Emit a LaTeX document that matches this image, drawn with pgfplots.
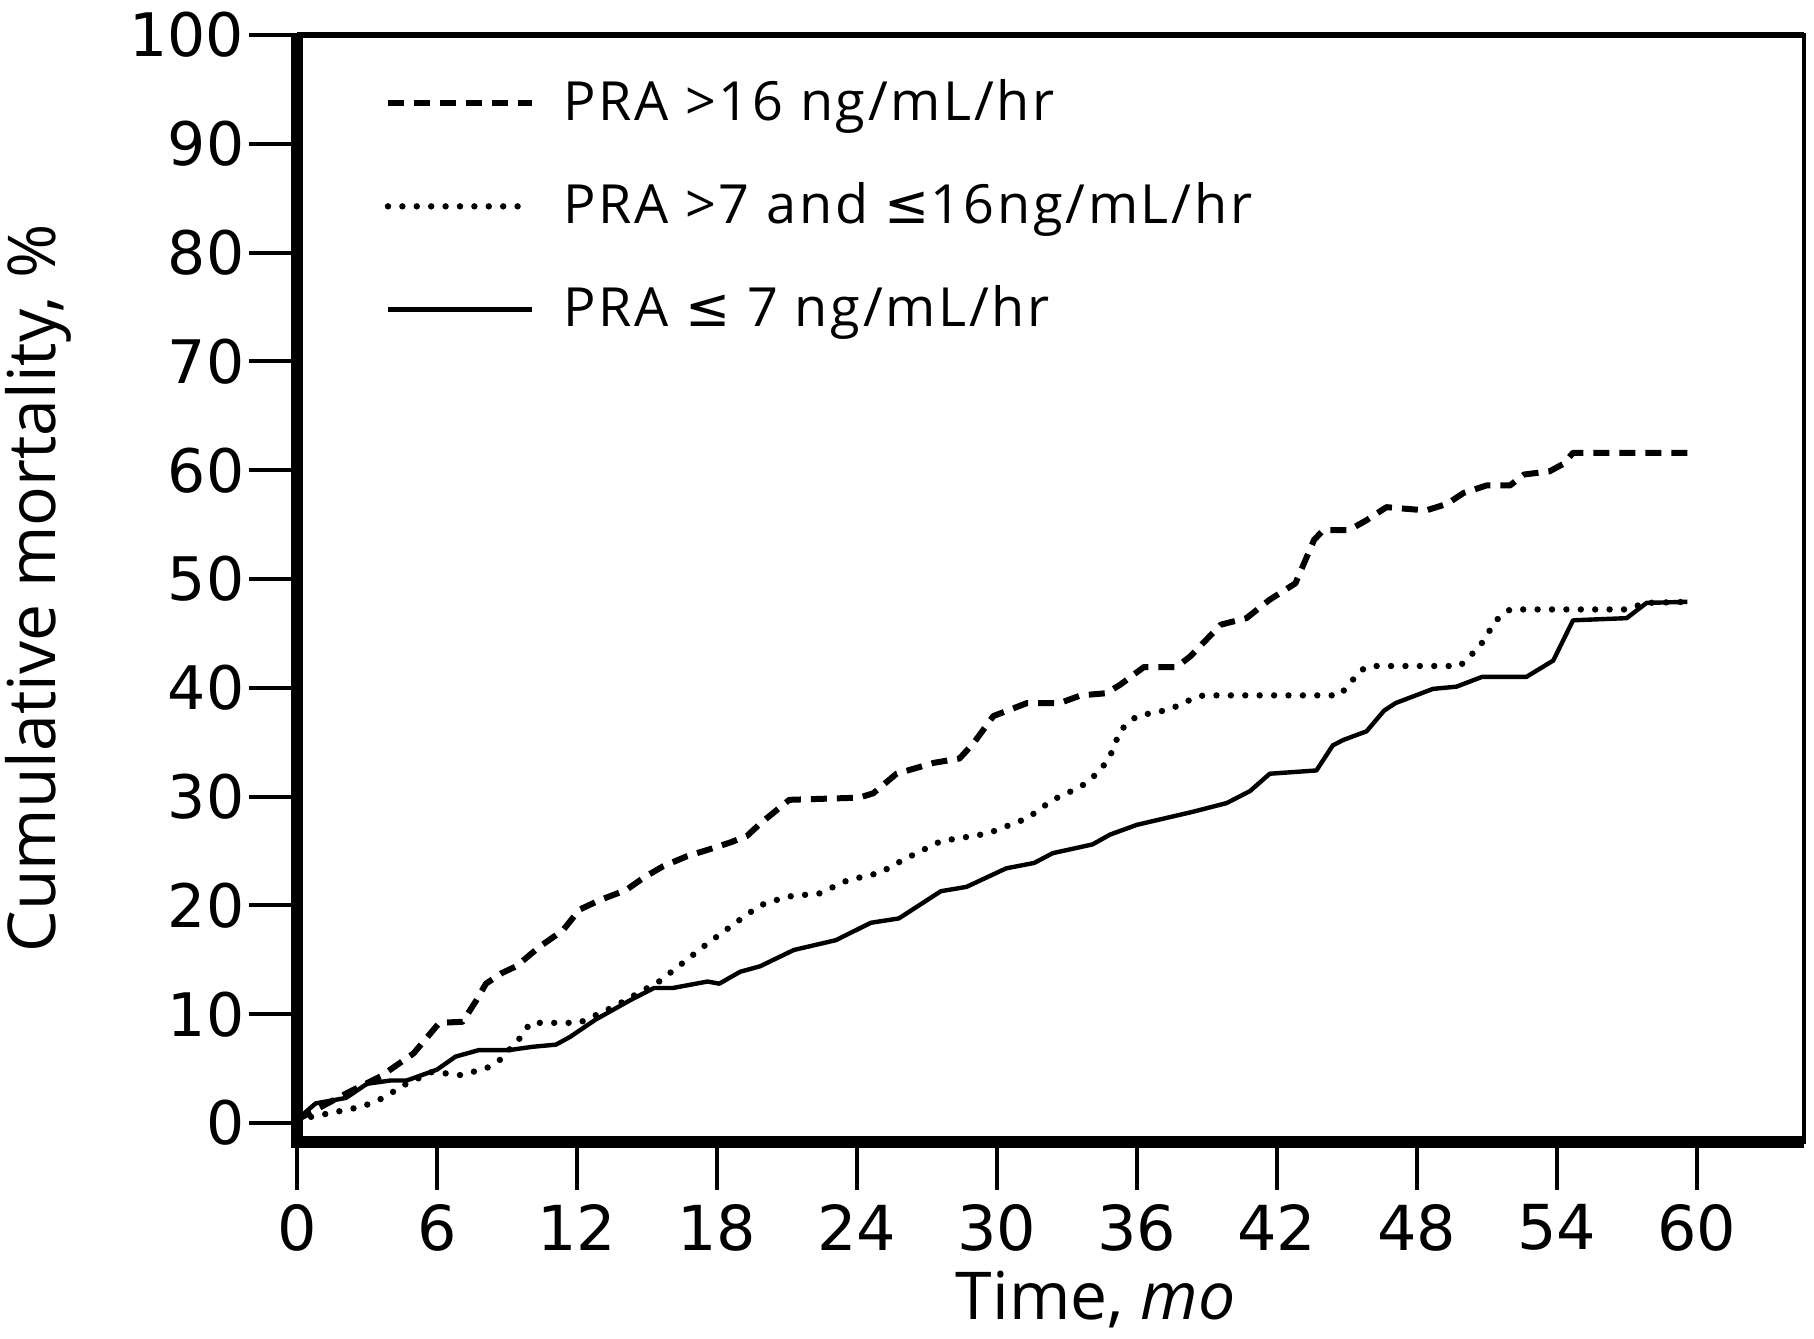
\documentclass[border=0pt]{standalone}
\usepackage{fontspec}
\setmainfont{Open Sans}
\newfontfamily\tickfont{DejaVu Sans}
\newfontfamily\symfont{DejaVu Sans}
\usepackage{pgfplots}
\pgfplotsset{compat=1.18}

\begin{document}
\begin{tikzpicture}
\begin{axis}[
  scale only axis,
  width=376.75pt, height=276.75pt,
  xmin=0, xmax=64.6, ymin=-1.75, ymax=100,
  xtick={0,6,...,60}, ytick={0,10,...,100},
  xtick pos=bottom, ytick pos=left,
  tick align=outside, major tick length=12pt,
  tick style={line width=1pt, black},
  axis line style={line width=1pt},
  clip=false,
  /pgf/number format/assume math mode=true,
  xticklabel style={font=\tickfont\fontsize{15.5}{18}\selectfont},
  yticklabel style={font=\tickfont\fontsize{15}{17}\selectfont, inner sep=1pt},
  xlabel={Time, \textit{mo}},
  ylabel={Cumulative mortality, \%},
  label style={font=\fontsize{16.5}{19}\selectfont, inner sep=0pt},
  xlabel style={at={(ticklabel cs:0.53)}, yshift=-1.5pt},
  ylabel shift=13.5pt,
  legend style={draw=none, fill=none, at={(axis description cs:0,1)},
    anchor=north west, xshift=21.75pt, yshift=-9pt, inner sep=0pt,
    row sep=10pt, font=\fontsize{13.5}{16}\selectfont\addfontfeature{LetterSpace=5}},
  legend cell align=left,
  legend image code/.code={\draw[#1] (0pt,0pt) -- (36pt,0pt); \path (41pt,0pt);},
  every axis plot/.append style={black, line join=round},
]
\addplot[line width=1.5pt, dash pattern=on 4pt off 2.5pt] coordinates {
(0,0.3) (2.1,2.7) (3.6,4.3) (5.0,6.4) (6.1,9.2) (7.1,9.3) (7.7,11.3) (8.1,12.8)
(8.8,13.8) (9.4,14.4) (10.4,16.2) (11.4,17.7) (12.1,19.6) (13.0,20.5) (14.1,21.4)
(14.9,22.6) (15.7,23.6) (16.7,24.5) (17.6,25.1) (18.6,25.8) (19.3,26.4) (19.85,27.5)
(21.1,29.7) (24.1,29.9) (24.7,30.3) (25.7,32.1) (27.3,33.1) (28.4,33.5) (29.0,34.9)
(29.85,37.4) (31.3,38.6) (32.7,38.6) (33.6,39.3) (34.7,39.5) (35.3,40.3) (36.3,41.9)
(37.7,41.9) (38.3,42.9) (39.6,45.8) (40.7,46.4) (41.7,48.1) (42.8,49.6) (43.6,53.6)
(44.0,54.5) (45.1,54.5) (45.85,55.4) (46.7,56.6) (48.4,56.3) (49.3,56.9) (50.0,57.9)
(51.0,58.6) (52.0,58.6) (52.6,59.6) (53.7,59.9) (54.3,60.6) (54.7,61.6) (59.8,61.6)
};
\addlegendentry{PRA >16 ng/mL/hr}
\addplot[line width=1.6pt, line cap=round, dash pattern=on 0pt off 3.6pt] coordinates {
(0,0.3) (1.4,0.9) (2.8,1.5) (3.7,2.3) (4.6,3.5) (5.8,4.7) (7.0,4.4) (8.1,5.0)
(8.7,5.8) (9.6,7.9) (10.0,9.2) (12.1,9.2) (13.6,10.7) (15.6,13.1) (16.0,13.8)
(17.6,16.5) (19.0,18.7) (19.85,20.0) (21.0,20.8) (22.4,21.1) (23.6,22.3) (25.0,23.0)
(26.0,24.2) (27.6,25.9) (29.6,26.6) (31.3,28.0) (32.4,29.7) (33.6,30.9) (34.4,32.3)
(34.85,33.7) (35.3,36.1) (36.0,37.4) (37.4,38.0) (38.4,39.0) (38.85,39.3) (44.7,39.3)
(45.6,41.6) (46.0,42.0) (49.85,42.0) (50.7,43.8) (51.4,46.2) (52.0,47.2) (57.0,47.2)
(57.8,47.8) (59.7,47.9)
};
\addlegendentry{PRA >7 and {\symfont ≤}16ng/mL/hr}
\addplot[line width=1.1pt] coordinates {
(0,0.3) (0.8,1.8) (2.1,2.3) (3.0,3.6) (4.0,3.9) (4.7,3.9) (6.0,4.9) (6.8,6.1)
(7.8,6.7) (9.1,6.7) (10.1,7.0) (11.1,7.2) (11.7,7.9) (12.8,9.5) (14.3,11.3)
(15.3,12.4) (16.1,12.4) (17.6,13.0) (18.1,12.8) (19.0,13.9) (19.85,14.4) (21.3,15.9)
(23.1,16.8) (24.6,18.4) (25.8,18.8) (27.6,21.3) (28.7,21.7) (30.4,23.4) (31.6,23.9)
(32.4,24.8) (34.1,25.6) (34.85,26.5) (36.0,27.4) (38.4,28.6) (39.85,29.4) (40.85,30.5)
(41.7,32.1) (43.7,32.4) (44.4,34.7) (44.85,35.2) (45.85,36.0) (46.6,37.9) (47.1,38.6)
(48.7,39.9) (49.7,40.1) (50.8,41.0) (52.7,41.0) (53.85,42.5) (54.7,46.2) (57.0,46.4)
(57.85,47.8) (59.6,47.9)
};
\addlegendentry{PRA {\symfont ≤} 7 ng/mL/hr}
% heavier frame on the left, bottom and top
\draw[line width=3pt] (rel axis cs:0,1) -- (rel axis cs:0,0) -- (rel axis cs:1,0);
\draw[line width=1.6pt] (rel axis cs:0,1) -- (rel axis cs:1,1);
\path (rel axis cs:0,0) ++(-74.25pt,-49.25pt) rectangle ++(453.5pt,334.75pt);
\end{axis}
\end{tikzpicture}
\end{document}
